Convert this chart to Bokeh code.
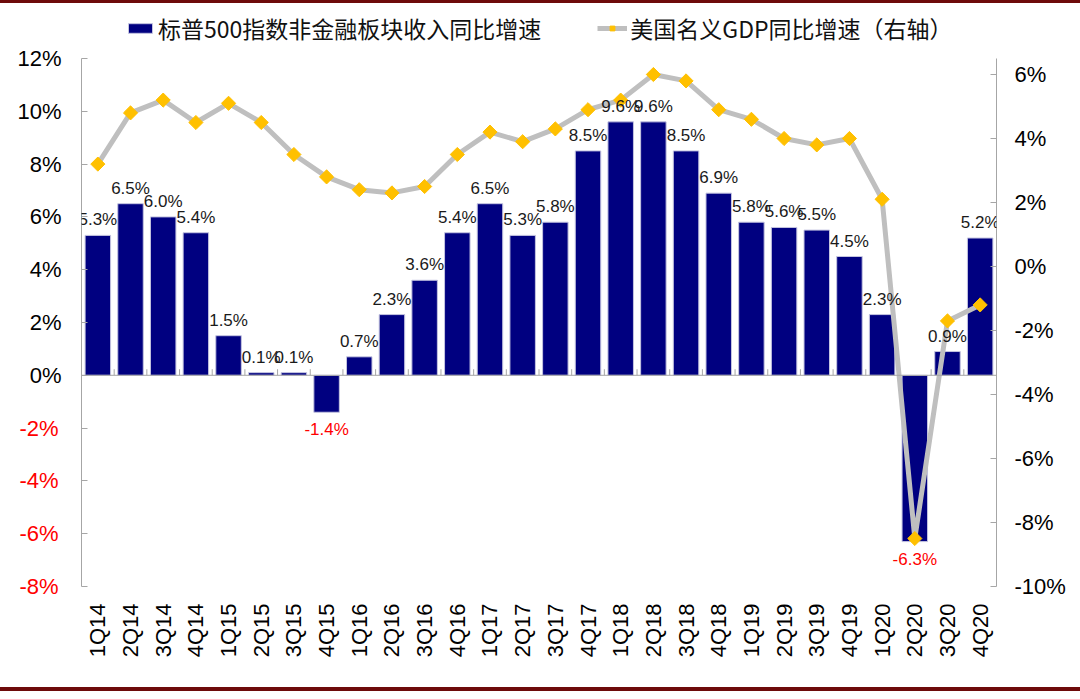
import numpy as np
from bokeh.plotting import figure
from bokeh.models import (ColumnDataSource, Range1d, LinearAxis, FactorRange, LabelSet,
                          Legend, LegendItem, Span, FixedTicker, CustomJSTickFormatter)
from bokeh.transform import dodge
from bokeh.embed import file_html
from bokeh.resources import INLINE
from bokeh.core.properties import value

quarters = ["1Q14", "2Q14", "3Q14", "4Q14", "1Q15", "2Q15", "3Q15", "4Q15",
            "1Q16", "2Q16", "3Q16", "4Q16", "1Q17", "2Q17", "3Q17", "4Q17",
            "1Q18", "2Q18", "3Q18", "4Q18", "1Q19", "2Q19", "3Q19", "4Q19",
            "1Q20", "2Q20", "3Q20", "4Q20"]
revenue = [5.3, 6.5, 6.0, 5.4, 1.5, 0.1, 0.1, -1.4, 0.7, 2.3, 3.6, 5.4,
           6.5, 5.3, 5.8, 8.5, 9.6, 9.6, 8.5, 6.9, 5.8, 5.6, 5.5, 4.5,
           2.3, -6.3, 0.9, 5.2]
gdp = [3.2, 4.8, 5.2, 4.5, 5.1, 4.5, 3.5, 2.8, 2.4, 2.3, 2.5, 3.5,
       4.2, 3.9, 4.3, 4.9, 5.2, 6.0, 5.8, 4.9, 4.6, 4.0, 3.8, 4.0,
       2.1, -8.5, -1.7, -1.2]
left_ticks = [-8, -6, -4, -2, 0, 2, 4, 6, 8, 10, 12]
right_ticks = [-10, -8, -6, -4, -2, 0, 2, 4, 6]
left_bounds = (-8, 12)
right_bounds = (-10, 6.5)
series_names = ["标普500指数非金融板块收入同比增速", "美国名义GDP同比增速（右轴）"]

FONT = "Liberation Sans"
CJK = "Noto Sans CJK SC"
AXIS_GRAY = "#A6A6A6"
RED = "#FF0000"
MAROON = "#6E0A0A"

# layout (pixels); the canvas sits between a 3px top rule and a 4px bottom rule
W, H = 1080, 691
B_LEFT, B_RIGHT, B_TOP, B_BOTTOM = 81, 84, 0, 108
FRAME_H = H - B_TOP - B_BOTTOM
HEADROOM = 55  # space above the axes, inside the frame, for the legend
left_top = left_bounds[1] + HEADROOM * (left_bounds[1] - left_bounds[0]) / (FRAME_H - HEADROOM)
right_top = right_bounds[1] + HEADROOM * (right_bounds[1] - right_bounds[0]) / (FRAME_H - HEADROOM)

p = figure(x_range=FactorRange(*quarters, range_padding=0),
           y_range=Range1d(left_bounds[0], left_top),
           width=W, height=H, output_backend="svg", toolbar_location=None,
           min_border_left=B_LEFT, min_border_right=B_RIGHT,
           min_border_top=B_TOP, min_border_bottom=B_BOTTOM)
p.styles = {"border-top": f"3px solid {MAROON}", "border-bottom": f"4px solid {MAROON}"}
p.outline_line_color = None
p.xgrid.visible = False
p.ygrid.visible = False
p.extra_y_ranges = {"gdp": Range1d(right_bounds[0], right_top)}

pct = CustomJSTickFormatter(code="return tick + '%'")

# left axis: black labels for non-negative ticks
yax = p.yaxis[0]
yax.ticker = FixedTicker(ticks=left_ticks)
yax.formatter = pct
yax.bounds = left_bounds
yax.major_label_overrides = {t: "" for t in left_ticks if t < 0}
yax.axis_line_color = AXIS_GRAY
yax.major_tick_line_color = AXIS_GRAY
yax.major_tick_in = 6
yax.major_tick_out = 0
yax.minor_tick_line_color = None
yax.major_label_text_font = FONT
yax.major_label_text_font_size = "22px"
yax.major_label_text_color = "#000000"
yax.major_label_standoff = 20

# second left axis: red labels for negative ticks, pulled back onto the first one
yneg = LinearAxis(ticker=FixedTicker(ticks=[t for t in left_ticks if t < 0]), formatter=pct,
                  bounds=left_bounds)
yneg.axis_line_color = None
yneg.major_tick_line_color = None
yneg.minor_tick_line_color = None
yneg.major_label_text_font = FONT
yneg.major_label_text_font_size = "22px"
yneg.major_label_text_color = RED
yneg.major_label_standoff = -50
p.add_layout(yneg, "left")

# right axis
rax = LinearAxis(y_range_name="gdp", ticker=FixedTicker(ticks=right_ticks), formatter=pct,
                 bounds=right_bounds)
rax.axis_line_color = AXIS_GRAY
rax.major_tick_line_color = AXIS_GRAY
rax.major_tick_in = 6
rax.major_tick_out = 0
rax.minor_tick_line_color = None
rax.major_label_text_font = FONT
rax.major_label_text_font_size = "22px"
rax.major_label_text_color = "#000000"
rax.major_label_standoff = 18
p.add_layout(rax, "right")

# bottom axis: labels only
xax = p.xaxis[0]
xax.axis_line_color = None
xax.major_tick_line_color = None
xax.major_label_orientation = np.pi / 2
xax.major_label_text_font = FONT
xax.major_label_text_font_size = "22px"
xax.major_label_text_color = "#000000"
xax.major_label_standoff = 11

src = ColumnDataSource(dict(q=quarters, rev=revenue, gdp=gdp))

# zero line and category ticks
p.add_layout(Span(location=0, dimension="width", line_color=AXIS_GRAY, line_width=1))
tick_src = ColumnDataSource(dict(q=quarters, y0=[0] * len(quarters), y1=[0.23] * len(quarters)))
p.segment(x0=dodge("q", 0.5, range=p.x_range), x1=dodge("q", 0.5, range=p.x_range),
          y0="y0", y1="y1", source=tick_src, line_color=AXIS_GRAY, line_width=1)

bars = p.vbar(x="q", top="rev", width=0.78, source=src, fill_color="#000080",
              line_color="#C4C4E0", line_width=1)
line_r = p.line(x="q", y="gdp", source=src, y_range_name="gdp", line_color="#BFBFBF",
                line_width=5, line_join="round")
pts = p.scatter(x="q", y="gdp", source=src, y_range_name="gdp", marker="square",
                angle=np.pi / 4, size=10, fill_color="#FFC000", line_color="#FFC000")

# bar labels
pos = [(q, v) for q, v in zip(quarters, revenue) if v >= 0]
neg = [(q, v) for q, v in zip(quarters, revenue) if v < 0]
pos_src = ColumnDataSource(dict(q=[a for a, b in pos], v=[b for a, b in pos],
                                t=[f"{b:.1f}%" for a, b in pos]))
neg_src = ColumnDataSource(dict(q=[a for a, b in neg], v=[b for a, b in neg],
                                t=[f"{b:.1f}%" for a, b in neg]))
p.add_layout(LabelSet(x="q", y="v", text="t", source=pos_src, text_align="center",
                      text_baseline="bottom", y_offset=6, text_font=value(FONT),
                      text_font_size="17px", text_color="#1A1A1A"))
p.add_layout(LabelSet(x="q", y="v", text="t", source=neg_src, text_align="center",
                      text_baseline="top", y_offset=-8, text_font=value(FONT),
                      text_font_size="17px", text_color=RED))

legend = Legend(items=[LegendItem(label=series_names[0], renderers=[bars]),
                       LegendItem(label=series_names[1], renderers=[line_r, pts])],
                location=(44, 541), orientation="horizontal", padding=0, margin=0,
                spacing=56, glyph_width=30, glyph_height=12, label_standoff=3,
                label_text_font=CJK, label_text_font_size="23px",
                label_text_color="#111111",
                border_line_color=None, background_fill_alpha=0)
p.add_layout(legend)

open("out.html", "w").write(file_html(p, INLINE))
